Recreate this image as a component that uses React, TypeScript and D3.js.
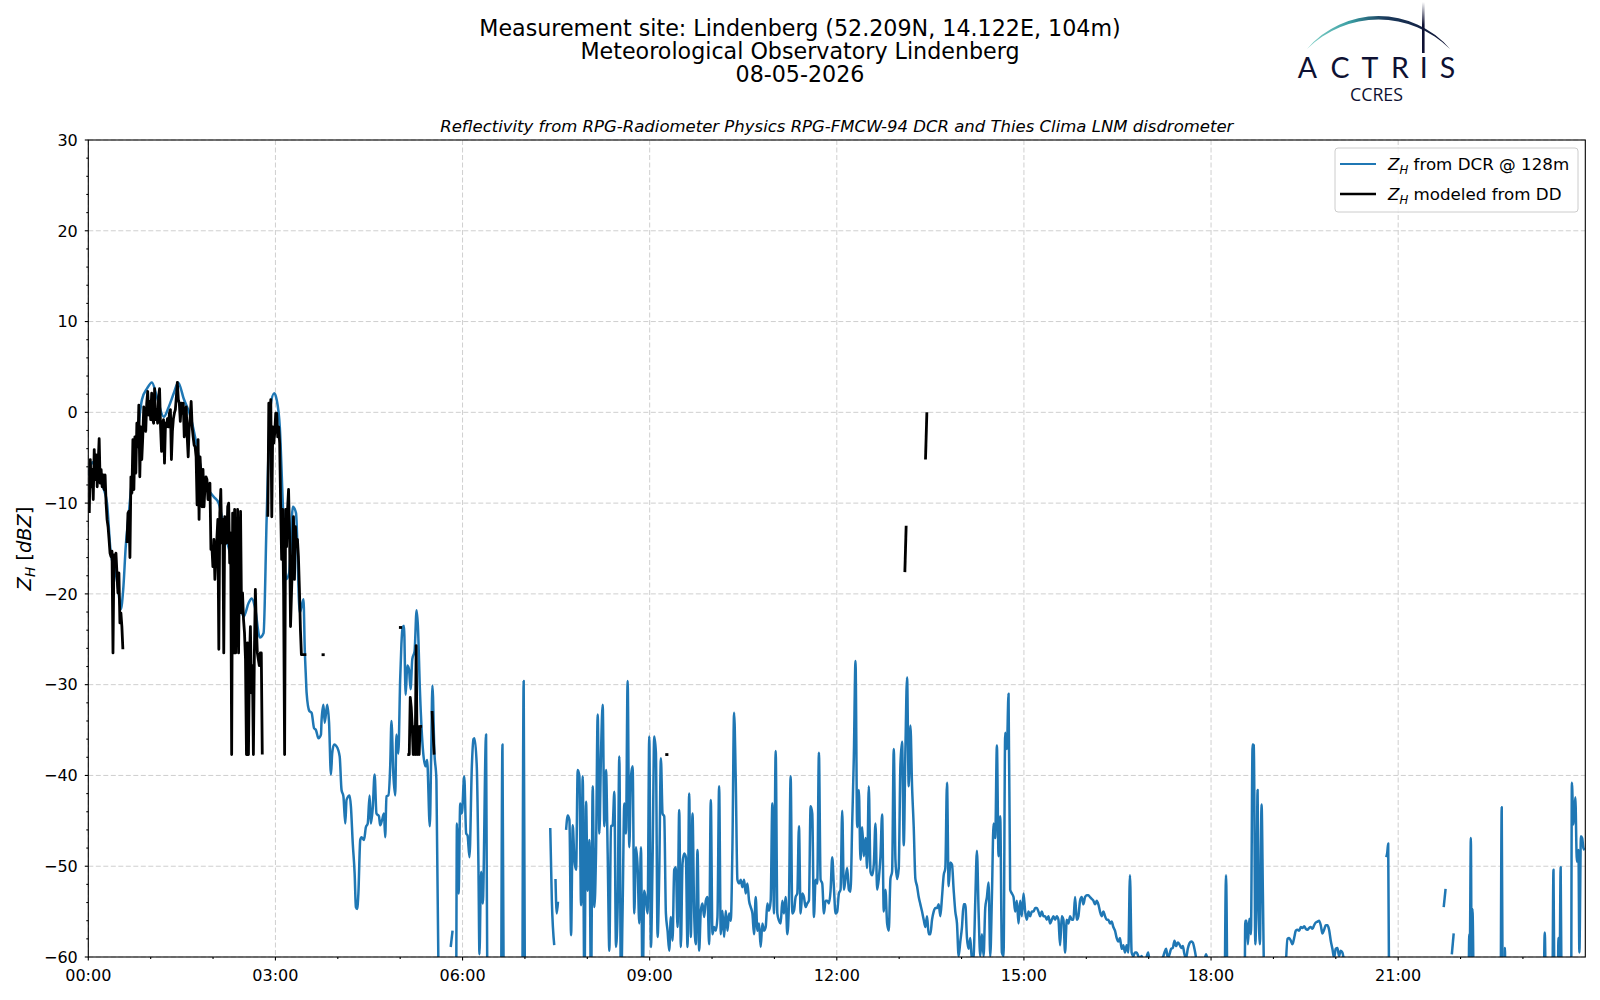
import * as d3 from "d3";

type Pt = [number, number]; // [hour of day, dBZ]

// spacing of the regularly sampled blocks, in minutes
const DCR_STEP = 1.6;
const DD_STEP = 0.95;

// values below -60 dBZ run off the bottom of the axes and get clipped
const at = (t0: number, stepMin: number, z: number[]): Pt[] =>
  z.map((v, i) => [t0 + (i * stepMin) / 60, v]);

const hourTicks = [0, 3, 6, 9, 12, 15, 18, 21];
const hourLabels = ["00:00", "03:00", "06:00", "09:00", "12:00", "15:00", "18:00", "21:00"];
const zTicks = [-60, -50, -40, -30, -20, -10, 0, 10, 20, 30];

const titleLines = [
  "Measurement site: Lindenberg (52.209N, 14.122E, 104m)",
  "Meteorological Observatory Lindenberg",
  "08-05-2026",
];
const subtitle =
  "Reflectivity from RPG-Radiometer Physics RPG-FMCW-94 DCR and Thies Clima LNM disdrometer";

// ---- Z_H from DCR @ 128m ----
const dcrEarly: Pt[] = [
  [0.0, -7.0], [0.03, -6.0], [0.07, -5.5], [0.11, -6.0], [0.15, -6.5], [0.2, -7.5], [0.25, -8.5],
  [0.3, -10.0], [0.36, -15.5], [0.44, -17.7], [0.48, -19.5], [0.52, -21.7], [0.56, -19.5],
  [0.6, -14.8], [0.65, -11.1], [0.7, -7.4], [0.78, -3.0], [0.86, 1.4], [0.94, 2.6], [1.02, 3.3],
  [1.1, 1.7], [1.21, -0.5], [1.29, 0.6], [1.37, 2.1], [1.44, 3.3], [1.53, 1.5], [1.64, -0.5],
  [1.72, -3.0], [1.8, -6.0], [1.9, -8.2], [2.01, -9.3], [2.09, -10.0], [2.17, -12.6], [2.27, -15.5],
  [2.38, -18.4], [2.49, -22.5], [2.57, -21.0], [2.62, -20.5], [2.67, -21.4], [2.75, -24.8],
  [2.81, -24.3], [2.86, -11.5], [2.92, 0.6], [2.98, 2.1], [3.02, 1.4], [3.07, -1.6], [3.12, -10.4],
  [3.17, -18.4], [3.22, -17.7], [3.28, -10.4], [3.33, -11.1], [3.39, -22.1], [3.45, -20.6],
  [3.47, -26.0], [3.49, -29.4], [3.5, -30.9], [3.544, -32.9], [3.58, -33.1], [3.62, -34.8],
  [3.65, -35.0], [3.69, -35.9], [3.73, -35.5], [3.74, -33.9], [3.77, -32.2], [3.79, -34.2],
  [3.83, -32.2], [3.86, -34.2], [3.89, -39.9], [3.91, -37.6], [3.94, -36.6], [3.98, -36.8],
  [4.03, -37.9], [4.06, -41.6], [4.09, -42.3], [4.12, -45.3], [4.14, -42.7], [4.19, -42.2],
  [4.21, -43.4], [4.24, -47.5], [4.27, -50.8], [4.29, -54.5], [4.31, -54.7], [4.33, -53.0],
  [4.36, -47.1], [4.38, -46.8], [4.42, -47.1], [4.45, -45.7], [4.48, -45.3], [4.51, -42.2],
  [4.53, -45.3], [4.56, -43.6], [4.59, -39.9], [4.62, -44.2], [4.66, -44.5], [4.68, -45.5],
  [4.71, -44.9], [4.74, -44.2], [4.76, -46.8], [4.78, -42.3], [4.81, -42.2], [4.84, -39.0],
  [4.86, -34.0], [4.89, -39.8], [4.92, -42.2], [4.94, -35.5], [4.97, -37.6], [5.0, -29.4],
  [5.02, -25.5], [5.04, -23.7], [5.061, -23.5], [5.088, -31.1], [5.114, -27.9], [5.141, -28.3],
  [5.167, -30.5], [5.194, -27.2], [5.231, -26.3], [5.263, -21.8], [5.284, -23.5], [5.316, -30.5],
  [5.369, -37.5], [5.406, -39.0], [5.432, -38.3], [5.475, -45.6], [5.496, -38.3], [5.517, -30.1],
  [5.549, -37.5], [5.581, -40.5], [5.618, -64],
];

const dcrMorning: Pt[][] = [
  [[5.81, -58.9], [5.84, -57.1]],
  [
    [5.899, -64], [5.91, -45.3], [5.936, -53.0], [5.963, -43.1], [5.989, -44.2], [6.027, -40.1],
    [6.058, -46.4], [6.08, -46.6], [6.111, -49.0], [6.149, -39.0], [6.175, -36.0], [6.191, -35.9],
    [6.228, -39.0], [6.255, -50.1], [6.271, -59.7], [6.297, -50.6], [6.324, -54.1], [6.377, -35.5],
    [6.398, -64],
  ],
  [[6.62, -64], [6.64, -36.6], [6.66, -64]],
  [[6.96, -64], [6.98, -29.6], [7.0, -64]],
  [[7.406, -45.8], [7.432, -53.9], [7.47, -58.7]],
  [[7.49, -51.4], [7.51, -55.2], [7.53, -53.9]],
];

const dcrDayStart = 7.66;
const dcrDayZ = [
  -46.0, -44.4, -44.9, -57.6, -45.5, -49.3, -50.4, -39.4, -40.1, -54.3, -40.1, -64, -42.9, -52.7,
  -47.1, -64, -41.2, -54.5, -48.4, -33.3, -46.4, -37.5, -32.2, -45.6, -39.4, -48.6, -59.3, -45.6,
  -45.5, -41.8, -58.9, -54.5, -37.9, -64, -54.5, -43.1, -46.4, -29.6, -47.9, -40.1, -39.0, -55.2,
  -47.9, -50.1, -56.3, -47.9, -64, -52.7, -53.8, -55.2, -35.7, -58.9, -49.3, -35.7, -37.5, -57.8,
  -50.8, -38.1, -44.2, -44.5, -55.2, -57.1, -59.3, -55.6, -58.2, -50.4, -50.1, -56.7, -43.8, -58.9,
  -49.7, -48.6, -49.0, -58.9, -42.0, -57.8, -44.2, -55.2, -58.6, -48.2, -59.3, -54.9, -54.1, -55.6,
  -53.8, -53.4, -58.6, -42.7, -57.5, -56.7, -57.1, -55.6, -41.2, -57.5, -54.9, -57.8, -54.9, -57.1,
  -55.2, -56.0, -47.9, -33.1, -40.5, -51.5, -51.9, -51.5, -52.3, -51.5, -53.0, -51.9, -53.8, -54.5,
  -55.2, -57.5, -53.4, -57.1, -56.3, -58.9, -56.3, -57.1, -56.7, -54.1, -54.9, -53.8, -43.1, -55.2,
  -37.3, -55.2, -56.0, -56.3, -53.8, -55.2, -53.4, -57.5, -53.8, -40.1, -55.2, -54.9, -53.4, -53.0,
  -45.6, -55.2, -53.0, -53.4, -54.5, -54.1, -53.8, -43.4, -44.2, -55.6, -51.5, -51.9, -37.5, -51.5,
  -51.9, -55.2, -53.8, -53.8, -54.1, -52.7, -49.0, -52.3, -55.2,
  // from 12:00
  -55.0, -53.0, -52.6, -43.9, -52.6, -51.4, -50.2, -52.6, -52.8, -45.3, -37.9, -27.4, -45.7, -41.6,
  -49.3, -45.7, -48.9, -46.9, -50.2, -41.2, -50.6, -51.0, -49.8, -45.3, -52.6, -51.4, -48.9, -44.3,
  -55.0, -52.6, -56.3, -57.1, -51.4, -50.6, -37.1, -49.3, -51.4, -50.2, -38.8, -36.3, -47.7, -37.1,
  -29.2, -41.2, -34.5, -41.2, -45.7, -51.4, -52.2, -53.4, -54.2, -55.0, -55.9, -56.7, -55.5, -57.5,
  -57.5, -55.9, -55.0, -54.6, -54.6, -54.2, -55.5, -53.4, -51.0, -50.2, -40.8, -52.2, -49.6, -49.8,
  -52.6, -55.0, -56.3, -59.9, -58.3, -56.7, -54.2, -54.2, -57.9, -59.1, -57.9, -60.4, -59.9, -53.8,
  -48.3, -55.0, -59.9, -57.5, -59.9, -54.6, -53.4, -51.8, -59.9, -53.4, -45.3, -46.9, -36.7, -48.9,
  -44.5, -59.5, -59.9, -35.3, -37.1, -31.0, -52.6, -53.0, -53.4, -55.0, -53.8, -56.3, -53.8, -55.5,
  -53.0, -55.0, -55.9, -55.0, -55.5, -55.0, -55.0, -54.6, -54.6, -55.0, -55.5, -55.0, -55.5, -55.5,
  -55.9, -55.5, -56.3, -55.9, -55.5, -55.9, -55.5, -55.9, -58.7, -55.5, -55.9, -59.5, -55.9, -56.3,
  -55.5, -55.9, -55.9, -53.4, -55.9, -55.5, -53.8, -53.4, -54.2, -53.4, -53.2, -53.2, -53.4, -53.6,
  -53.8, -54.2, -53.8, -54.2, -55.0, -55.5, -55.0, -55.5, -55.9, -55.9, -56.3, -56.1, -56.7, -57.1,
  -57.9, -58.3, -57.9, -59.1, -58.7, -59.5, -58.7, -59.5, -51.0, -59.5, -59.9, -59.5, -59.5, -59.9,
  -60.2, -59.9, -60.5, -61.0, -60.0, -59.5, -61.0, -62.0,
];

const dcrDuskStart = 17.227;
const dcrDuskZ = [
  -60.1, -59.5, -59.1, -60.1, -59.7, -59.1, -59.0, -58.2, -58.8, -58.4, -58.6, -59.0, -58.8, -59.7,
  -60.1, -59.1, -58.5, -58.3, -58.4, -59.1, -60.1,
];

const dcrHumpStart = 19.199;
const dcrHumpZ = [
  -61.0, -58.0, -57.9, -58.2, -58.6, -57.9, -57.1, -57.0, -57.1, -56.7, -56.8, -56.6, -56.9, -57.0,
  -56.8, -56.7, -56.9, -56.5, -56.2, -56.1, -56.0, -56.5, -57.4, -57.0, -56.5, -56.5, -57.0, -58.2,
  -59.1, -60.1, -59.1, -59.0, -59.9, -59.3, -59.5, -60.5,
];

const dcrEvening: Pt[][] = [
  [[17.89, -60.5], [17.92, -59.7], [17.95, -60.5]],
  [[18.22, -64], [18.24, -51.0], [18.26, -64]],
  [
    [18.54, -64], [18.549, -56.0], [18.57, -56.0], [18.591, -58.6], [18.613, -55.8], [18.639, -57.5],
    [18.666, -36.6], [18.687, -36.7], [18.709, -58.6], [18.73, -52.3], [18.746, -41.6],
    [18.762, -53.8], [18.783, -58.6], [18.81, -43.2], [18.831, -53.0], [18.852, -64],
  ],
  [[20.808, -49.0], [20.825, -48.5], [20.84, -47.5], [20.855, -64]],
  [[21.73, -54.5], [21.76, -52.5]],
  [[21.86, -59.7], [21.89, -57.4]],
  [[22.13, -64], [22.14, -57.5], [22.15, -58.2], [22.165, -46.9], [22.18, -64], [22.19, -54.7], [22.21, -64]],
  [[22.645, -64], [22.66, -43.5], [22.675, -64]],
  [[22.7, -64], [22.71, -59.0], [22.72, -64]],
  [[23.335, -64], [23.35, -57.3], [23.365, -64]],
  [[23.475, -64], [23.49, -50.4], [23.505, -64]],
  [[23.56, -64], [23.57, -57.9], [23.585, -64], [23.605, -50.1], [23.62, -64]],
  [
    [23.775, -64], [23.785, -40.8], [23.81, -45.4], [23.84, -42.4], [23.865, -49.5], [23.89, -48.2],
    [23.905, -59.5], [23.93, -46.7], [23.95, -46.9], [23.97, -48.0], [23.99, -48.2],
  ],
];

// ---- Z_H modeled from disdrometer ----
const ddZ1 = [
  -11.1, -5.2, -8.2, -6.3, -9.6, -4.1, -7.4, -4.7, -8.2, -5.6, -2.9, -7.8, -6.3, -8.2, -6.9, -8.5,
  -6.9, -10.0, -11.8, -12.6, -14.0, -15.5, -15.9, -15.3, -26.5, -15.7, -16.6, -15.5, -17.7, -19.9,
  -17.7, -23.2, -22.1, -23.6, -26.1,
];
const ddZ2 = [
  -14.4, -11.1, -10.9, -16.0, -7.1, -8.9, -3.0, -8.5, -2.7, -6.7, -1.2, -3.8, 0.8, -7.1, -1.6, -5.2,
  -2.7, 0.6, -0.1, -2.1, 1.0, 2.3, -0.3, 1.2, -0.8, 2.1, -0.7, -1.2, 2.6, -0.8, 0.3, -1.2, 1.7, 2.6,
  -1.6, -4.3, -1.2, -0.8, -5.6, -1.2, -1.6, -0.7, -1.6, -0.1, 0.3, -5.2, -2.1, -0.7, -0.1, 0.3, 1.7,
  3.3, 1.4, 1.0, -1.0, 1.0, -0.1, 1.0, -2.7, -1.6, 0.6, -2.7, -4.9, -1.6, -0.5, 1.2, -1.6, -2.7,
  -3.6, -3.8, -4.9, -10.2, -3.0, -11.8, -4.9, -7.1, -10.4, -6.3, -10.4, -8.2, -7.1, -7.4, -9.6,
  -8.9, -7.8, -15.1, -14.8, -17.0, -14.0, -18.4, -15.9, -14.0, -11.8, -26.1, -11.1, -8.5, -14.4,
  -11.8, -26.5, -11.5, -12.6, -14.4, -10.4, -10.0, -16.6, -13.3, -37.7, -11.1, -26.5, -10.7, -26.5,
  -19.9, -10.7, -26.5, -17.0, -10.9, -22.1, -19.9, -22.8, -24.3, -27.2, -37.7, -25.4, -37.7, -27.2,
  -23.6, -30.9, -27.9, -37.7, -26.5, -19.5, -23.6, -26.5, -27.2, -27.9, -26.5, -26.5, -37.7,
];
const ddZ3 = [
  -11.5, 1.0, -1.6, 1.4, -11.5, -1.6, -3.4, -2.3, -0.1, -0.1, -2.7, -1.6, -3.4, -10.4, -16.2, -10.7,
  -19.9, -37.7, -10.7, -14.8, -10.7, -8.5, -13.3, -23.6, -19.9, -16.2, -11.5, -18.4, -12.6, -14.8,
  -14.0, -15.9, -19.5, -23.9, -26.7, -26.7, -26.7, -26.7, -26.7, -26.7,
];
const ddZ4 = [
  -37.7, -37.7, -37.7, -31.4, -32.5, -34.6, -37.7, -34.6, -37.7, -25.7, -37.7, -34.6, -37.7, -34.6,
  -34.6, -34.6,
];
const ddShort: Pt[][] = [
  [[3.74, -26.7], [3.757, -26.7], [3.773, -26.7], [3.79, -26.7]],
  [[4.98, -23.7], [4.997, -23.7], [5.013, -23.7], [5.03, -23.7]],
  [[5.512, -32.9], [5.528, -35.3], [5.544, -37.7]],
  [[9.25, -37.7], [9.267, -37.7], [9.283, -37.7], [9.3, -37.7]],
  [[13.091, -17.6], [13.112, -12.5]],
  [[13.422, -5.2], [13.444, 0.0]],
];

const dcrSegments: Pt[][] = [
  dcrEarly,
  ...dcrMorning,
  at(dcrDayStart, DCR_STEP, dcrDayZ),
  at(dcrDuskStart, DCR_STEP, dcrDuskZ),
  at(dcrHumpStart, DCR_STEP, dcrHumpZ),
  ...dcrEvening,
];
const ddSegments: Pt[][] = [
  at(0.0159, DD_STEP, ddZ1),
  at(0.62, DD_STEP, ddZ2),
  at(2.878, DD_STEP, ddZ3),
  at(5.114, DD_STEP, ddZ4),
  ...ddShort,
];

const logoLetters = ["A", "C", "T", "R", "I", "S"];
const logoLetterX = [1307.5, 1340, 1370, 1400, 1423.7, 1447.5];

const BLUE = "#1f77b4";
const NAVY = "#0e1133";
const FONT = "DejaVu Sans, sans-serif";

export default function App() {
  const width = 1600;
  const height = 1000;
  const plot = { left: 88.3, right: 1585.3, top: 140, bottom: 957 };

  const x = d3.scaleLinear().domain([0, 24]).range([plot.left, plot.right]);
  const y = d3.scaleLinear().domain([-60, 30]).range([plot.bottom, plot.top]);

  const smooth = d3
    .line<Pt>()
    .x((d) => x(d[0]))
    .y((d) => y(d[1]))
    .curve(d3.curveMonotoneX);
  const straight = d3
    .line<Pt>()
    .x((d) => x(d[0]))
    .y((d) => y(d[1]));

  const hourMinor = d3.range(0, 24).filter((h) => h % 3 !== 0);
  const zMinor = d3.range(-60, 31, 2).filter((v) => v % 10 !== 0);
  const fmt = d3.format("d");

  const legendX = 1335;
  const legendY = 148;

  return (
    <svg
      width={width}
      height={height}
      style={{ position: "absolute", left: 0, top: 0, background: "#fff" }}
      fontFamily={FONT}
    >
      <defs>
        <clipPath id="plotClip">
          <rect x={plot.left} y={plot.top} width={plot.right - plot.left} height={plot.bottom - plot.top} />
        </clipPath>
        <linearGradient id="arcGrad" x1="1307" y1="0" x2="1450" y2="0" gradientUnits="userSpaceOnUse">
          <stop offset="0" stopColor="#86d3c9" />
          <stop offset="0.3" stopColor="#3a9ea3" />
          <stop offset="0.55" stopColor="#1b3a5c" />
          <stop offset="1" stopColor={NAVY} />
        </linearGradient>
        <linearGradient id="mastGrad" x1="0" y1="2" x2="0" y2="53" gradientUnits="userSpaceOnUse">
          <stop offset="0" stopColor={NAVY} stopOpacity="0" />
          <stop offset="0.45" stopColor={NAVY} stopOpacity="1" />
        </linearGradient>
      </defs>

      <rect width={width} height={height} fill="#fff" />

      {/* titles */}
      {titleLines.map((t, i) => (
        <text key={t} x={800} y={36 + i * 23} textAnchor="middle" fontSize={22.2} fill="#000">
          {t}
        </text>
      ))}
      <text x={(plot.left + plot.right) / 2} y={132} textAnchor="middle" fontSize={16.5} fontStyle="italic">
        {subtitle}
      </text>

      {/* logo */}
      <g>
        <path d="M1307,49 A94,94 0 0 1 1450,49 A101.4,101.4 0 0 0 1307,49 Z" fill="url(#arcGrad)" />
        <rect x={1422} y={2} width={2.6} height={51} fill="url(#mastGrad)" />
        {logoLetters.map((ch, i) => (
          <text
            key={ch}
            x={logoLetterX[i]}
            y={77.5}
            textAnchor="middle"
            fontSize={28.5}
            fontFamily="Lato, DejaVu Sans"
            fill={NAVY}
          >
            {ch}
          </text>
        ))}
        <text
          x={1350}
          y={100.5}
          fontSize={18.5}
          fontFamily="Open Sans, DejaVu Sans"
          fill={NAVY}
          textLength={53}
          lengthAdjust="spacingAndGlyphs"
        >
          CCRES
        </text>
      </g>

      {/* grid */}
      <g stroke="#cfcfcf" strokeWidth={1} strokeDasharray="5 2.5">
        {hourTicks.map((h) => (
          <line key={"gx" + h} x1={x(h)} x2={x(h)} y1={plot.top} y2={plot.bottom} />
        ))}
        {zTicks.map((v) => (
          <line key={"gy" + v} x1={plot.left} x2={plot.right} y1={y(v)} y2={y(v)} />
        ))}
      </g>

      {/* data */}
      <g clipPath="url(#plotClip)" fill="none" strokeLinejoin="round">
        {dcrSegments.map((seg, i) => (
          <path key={"dcr" + i} d={smooth(seg) ?? ""} stroke={BLUE} strokeWidth={2.5} />
        ))}
        {ddSegments.map((seg, i) => (
          <path key={"dd" + i} d={straight(seg) ?? ""} stroke="#000" strokeWidth={2.8} />
        ))}
      </g>

      {/* axes frame */}
      <rect
        x={plot.left}
        y={plot.top}
        width={plot.right - plot.left}
        height={plot.bottom - plot.top}
        fill="none"
        stroke="#000"
        strokeWidth={1.1}
      />

      {/* ticks */}
      <g stroke="#000" strokeWidth={1.1}>
        {hourTicks.map((h) => (
          <line key={"tx" + h} x1={x(h)} x2={x(h)} y1={plot.bottom} y2={plot.bottom + 3.5} />
        ))}
        {hourMinor.map((h) => (
          <line key={"mx" + h} x1={x(h)} x2={x(h)} y1={plot.bottom} y2={plot.bottom + 2} />
        ))}
        {zTicks.map((v) => (
          <line key={"ty" + v} x1={plot.left - 3.5} x2={plot.left} y1={y(v)} y2={y(v)} />
        ))}
        {zMinor.map((v) => (
          <line key={"my" + v} x1={plot.left - 2} x2={plot.left} y1={y(v)} y2={y(v)} />
        ))}
      </g>
      {hourTicks.map((h, i) => (
        <text key={"lx" + h} x={x(h)} y={plot.bottom + 24} textAnchor="middle" fontSize={16}>
          {hourLabels[i]}
        </text>
      ))}
      {zTicks.map((v) => (
        <text key={"ly" + v} x={plot.left - 10.5} y={y(v) + 5.8} textAnchor="end" fontSize={16}>
          {fmt(v)}
        </text>
      ))}

      {/* y label */}
      <text transform={`translate(31,${(plot.top + plot.bottom) / 2}) rotate(-90)`} textAnchor="middle" fontSize={19.4}>
        <tspan fontStyle="italic">Z</tspan>
        <tspan fontStyle="italic" fontSize={13.6} dy={4}>H</tspan>
        <tspan dy={-4}> [</tspan>
        <tspan fontStyle="italic">dBZ</tspan>
        <tspan>]</tspan>
      </text>

      {/* legend */}
      <g>
        <rect x={legendX} y={legendY} width={243} height={64} rx={3} fill="#fff" fillOpacity={0.8} stroke="#cccccc" strokeWidth={1} />
        <line x1={legendX + 5} x2={legendX + 41} y1={164} y2={164} stroke={BLUE} strokeWidth={2.2} />
        <line x1={legendX + 5} x2={legendX + 41} y1={194} y2={194} stroke="#000" strokeWidth={2.4} />
        <text x={legendX + 53} y={170} fontSize={16.7}>
          <tspan fontStyle="italic">Z</tspan>
          <tspan fontStyle="italic" fontSize={11.7} dy={3.5}>H</tspan>
          <tspan dy={-3.5}> from DCR @ 128m</tspan>
        </text>
        <text x={legendX + 53} y={200} fontSize={16.7}>
          <tspan fontStyle="italic">Z</tspan>
          <tspan fontStyle="italic" fontSize={11.7} dy={3.5}>H</tspan>
          <tspan dy={-3.5}> modeled from DD</tspan>
        </text>
      </g>
    </svg>
  );
}
